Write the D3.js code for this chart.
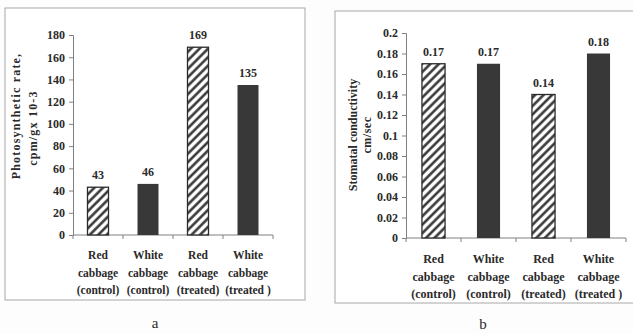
<!DOCTYPE html>
<html>
<head>
<meta charset="utf-8">
<script src="https://cdn.jsdelivr.net/npm/d3@7"></script>
<style>
  html,body{margin:0;padding:0;background:#fdfdfd;}
  svg{display:block;}
  text{font-family:"Liberation Serif","Times New Roman",serif;fill:#2a2a2a;}
</style>
</head>
<body>
<div id="chart"></div>
<script>
// data
var categories=["Red cabbage (control)","White cabbage (control)","Red cabbage (treated)","White cabbage (treated)"];
var catLines=[["Red","cabbage","(control)"],["White","cabbage","(control)"],["Red","cabbage","(treated)"],["White","cabbage","(treated )"]];
var photoValues=[43,46,169,135];
var photoTicks=[0,20,40,60,80,100,120,140,160,180];
var stomaValues=[0.17,0.17,0.14,0.18];
var stomaTicks=[0,0.02,0.04,0.06,0.08,0.1,0.12,0.14,0.16,0.18,0.2];
var hatched=[true,false,true,false];

var W=633,H=334;
var svg=d3.select("#chart").append("svg").attr("width",W).attr("height",H);

//斜线填充
var pat=svg.append("defs").append("pattern")
    .attr("id","hatch")
    .attr("patternUnits","userSpaceOnUse")
    .attr("width",6).attr("height",6)
    .attr("patternTransform","rotate(45)");
pat.append("rect").attr("width",6).attr("height",6).attr("fill","#fff");
pat.append("line").attr("x1",1.5).attr("y1",0).attr("x2",1.5).attr("y2",6)
    .attr("stroke","#2b2b2b").attr("stroke-width",2.4);

function drawPanel(o){
    var g=svg.append("g");
    //外框
    g.append("rect")
        .attr("x",o.frame[0]).attr("y",o.frame[1])
        .attr("width",o.frame[2]).attr("height",o.frame[3])
        .attr("fill","#fff").attr("stroke","#a8a8a8").attr("stroke-width",1);

    var x=d3.scaleBand().domain(categories).range(o.xr).padding(0);
    var y=d3.scaleLinear().domain(o.domain).range(o.yr);
    var bw=x.bandwidth()*0.42;

    //y轴
    var gy=g.append("g").attr("transform","translate("+o.xr[0]+",0)")
        .call(d3.axisLeft(y).tickValues(o.ticks).tickSize(4).tickPadding(4).tickFormat(o.fmt));
    gy.selectAll("path,line").attr("stroke","#808080");
    gy.selectAll("text").attr("font-size","12px").attr("font-weight","bold")
        .attr("font-family","Liberation Serif, serif").attr("fill","#2a2a2a");

    //x轴
    var gx=g.append("g").attr("transform","translate(0,"+o.yr[0]+")");
    gx.append("line").attr("x1",o.xr[0]).attr("x2",o.xr[1]).attr("y1",0).attr("y2",0)
        .attr("stroke","#808080");
    var bounds=[o.xr[0]].concat(categories.map(function(c){return x(c)+x.bandwidth();}));
    gx.selectAll(".tk").data(bounds).enter().append("line")
        .attr("x1",function(d){return d;}).attr("x2",function(d){return d;})
        .attr("y1",0).attr("y2",4).attr("stroke","#808080");

    //柱子
    g.selectAll(".bar").data(o.values).enter().append("rect")
        .attr("x",function(d,i){return x(categories[i])+(x.bandwidth()-bw)/2;})
        .attr("y",function(d){return y(d);})
        .attr("width",bw)
        .attr("height",function(d){return y(0)-y(d);})
        .attr("fill",function(d,i){return hatched[i]?"url(#hatch)":"#383838";})
        .attr("stroke",function(d,i){return hatched[i]?"#2b2b2b":"none";})
        .attr("stroke-width",1.3);

    //数值
    g.selectAll(".val").data(o.values).enter().append("text")
        .attr("x",function(d,i){return x(categories[i])+x.bandwidth()/2;})
        .attr("y",function(d){return y(d)-8;})
        .attr("text-anchor","middle").attr("font-size","12px").attr("font-weight","bold")
        .text(function(d){return o.fmt(d);});

    //类别标签
    catLines.forEach(function(lines,i){
        lines.forEach(function(t,j){
            g.append("text")
                .attr("x",x(categories[i])+x.bandwidth()/2)
                .attr("y",o.labelY+j*17.5)
                .attr("text-anchor","middle")
                .attr("font-size",o.catSize).attr("font-weight","bold")
                .text(t);
        });
    });

    //y轴标题
    o.title.forEach(function(t,j){
        g.append("text")
            .attr("transform","translate("+t.x+","+t.cy+") rotate(-90)")
            .attr("text-anchor","middle")
            .attr("font-size","12px").attr("font-weight","bold")
            .attr("letter-spacing",t.ls)
            .text(t.text);
    });

    //面板字母
    g.append("text").attr("x",o.letter[0]).attr("y",o.letter[1])
        .attr("text-anchor","middle").attr("font-size","15px").text(o.letter[2]);
}

drawPanel({
    frame:[5,8,300,292],
    xr:[73,273], yr:[235,35], domain:[0,180],
    ticks:photoTicks, values:photoValues,
    fmt:d3.format("d"),
    labelY:259, catSize:"11.5px",
    title:[{text:"Photosynthetic rate,",x:20,cy:116,ls:"1.2px"},
           {text:"cpm/gx 10-3",x:37,cy:128,ls:"1.2px"}],
    letter:[155,328,"a"]
});

drawPanel({
    frame:[335,11,310,292],
    xr:[406,626], yr:[238,33], domain:[0,0.2],
    ticks:stomaTicks, values:stomaValues,
    fmt:function(d){return d===0?"0":String(+d.toFixed(2));},
    labelY:263, catSize:"12px",
    title:[{text:"Stomatal conductivity",x:357,cy:135,ls:"0px"},
           {text:"cm/sec",x:371,cy:135,ls:"0.5px"}],
    letter:[483,329,"b"]
});
</script>
</body>
</html>
